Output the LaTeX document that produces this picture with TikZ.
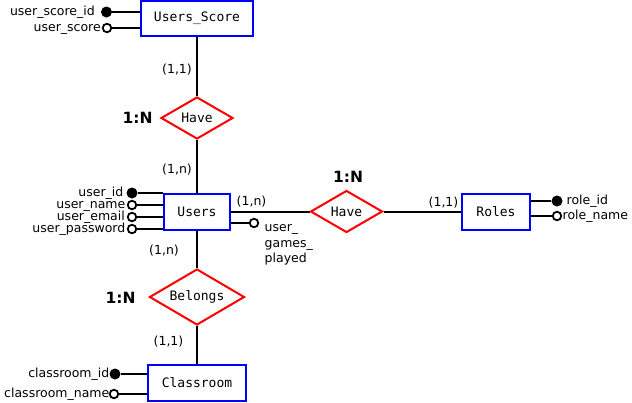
\documentclass[tikz,border=0pt]{standalone}
\usepackage{fontspec}
\setmainfont{DejaVu Sans}
\setmonofont{DejaVu Sans Mono}
\usetikzlibrary{shapes.geometric}
\begin{document}
\begin{tikzpicture}[x=1pt,y=-1pt,
  entity/.style={draw=blue,line width=2pt,fill=white,inner sep=0pt,
    font=\ttfamily\fontsize{13}{15}\selectfont},
  rel/.style={diamond,draw=red,line width=2pt,fill=white,inner sep=0pt,aspect=2,
    font=\ttfamily\fontsize{13}{15}\selectfont},
  conn/.style={line width=2pt},
  keyattr/.style={circle,fill=black,inner sep=0pt,minimum size=11pt},
  attr/.style={circle,draw=black,fill=white,line width=1.8pt,inner sep=0pt,minimum size=8.5pt},
  lbl/.style={inner sep=0pt,font=\fontsize{12.5}{15}\selectfont},
  card/.style={inner sep=0pt,font=\fontsize{12.5}{15}\selectfont},
  ratio/.style={inner sep=0pt,font=\bfseries\fontsize{15.5}{18}\selectfont}]
\useasboundingbox (0,0) rectangle (632,402);

% entities
\node[entity,minimum width=112pt,minimum height=35pt] (us) at (197,18.5) {Users\_Score};
\node[entity,minimum width=66pt,minimum height=36pt] (users) at (197,211.5) {Users};
\node[entity,minimum width=68pt,minimum height=36pt] (roles) at (496,211.5) {Roles};
\node[entity,minimum width=98pt,minimum height=36pt] (class) at (197,383) {Classroom};

% relationships
\node[rel,minimum width=72pt,minimum height=42pt] (have1) at (197,118) {Have};
\node[rel,minimum width=72pt,minimum height=42pt] (have2) at (346.5,211.5) {Have};
\node[rel,minimum width=95pt,minimum height=56pt] (bel) at (197,297) {Belongs};

% connectors
\draw[conn] (us.south) -- (have1.north);
\draw[conn] (have1.south) -- (users.north);
\draw[conn] (users.east) -- (have2.west);
\draw[conn] (have2.east) -- (roles.west);
\draw[conn] (users.south) -- (bel.north);
\draw[conn] (bel.south) -- (class.north);

% cardinalities
\node[card] (c1) at (177,70) {(1,1)};
\node[card] (c2) at (177,170) {(1,n)};
\node[card] (c3) at (251.5,202) {(1,n)};
\node[card] (c4) at (443.5,203) {(1,1)};
\node[card] (c5) at (164,251) {(1,n)};
\node[card] (c6) at (168.5,342) {(1,1)};
\node[ratio] (r1) at (137.5,118) {1:N};
\node[ratio] (r2) at (348,177) {1:N};
\node[ratio] (r3) at (120.5,298) {1:N};

% Users_Score attributes
\node[keyattr] (usa1) at (106.5,12) {};
\node[attr] (usa2) at (107,28) {};
\draw[conn] (usa1) -- (usa1 -| us.west);
\draw[conn] (usa2) -- (usa2 -| us.west);
\node[lbl,anchor=mid east] (usl1) at (95,12.5) {user\_score\_id};
\node[lbl,anchor=mid east] (usl2) at (101,28.5) {user\_score};

% Users attributes
\node[keyattr] (ua1) at (132,193) {};
\node[attr] (ua2) at (132,205) {};
\node[attr] (ua3) at (132,217) {};
\node[attr] (ua4) at (132,229) {};
\draw[conn] (ua1) -- (ua1 -| users.west);
\draw[conn] (ua2) -- (ua2 -| users.west);
\draw[conn] (ua3) -- (ua3 -| users.west);
\draw[conn] (ua4) -- (ua4 -| users.west);
\node[lbl,anchor=mid east] (ul1) at (123.5,193.5) {user\_id};
\node[lbl,anchor=mid east] (ul2) at (125.5,205.5) {user\_name};
\node[lbl,anchor=mid east] (ul3) at (125,217.5) {user\_email};
\node[lbl,anchor=mid east] (ul4) at (125.5,229.5) {user\_password};
\node[attr] (ua5) at (254,223) {};
\draw[conn] (ua5) -- (ua5 -| users.east);
\node[lbl,anchor=north west,align=left,font=\fontsize{12.5}{15.5}\selectfont] (ul5) at (264.5,224.5) {user\_\\games\_\\played};

% Roles attributes
\node[keyattr] (ra1) at (557,201) {};
\node[attr] (ra2) at (557,216) {};
\draw[conn] (ra1) -- (ra1 -| roles.east);
\draw[conn] (ra2) -- (ra2 -| roles.east);
\node[lbl,anchor=mid west] (rl1) at (566.5,201.5) {role\_id};
\node[lbl,anchor=mid west] (rl2) at (562.5,216.5) {role\_name};

% Classroom attributes
\node[keyattr] (ca1) at (115,374) {};
\node[attr] (ca2) at (114,394) {};
\draw[conn] (ca1) -- (ca1 -| class.west);
\draw[conn] (ca2) -- (ca2 -| class.west);
\node[lbl,anchor=mid east] (cl1) at (109.5,374.5) {classroom\_id};
\node[lbl,anchor=mid east] (cl2) at (109.5,394.5) {classroom\_name};
\end{tikzpicture}
\end{document}
